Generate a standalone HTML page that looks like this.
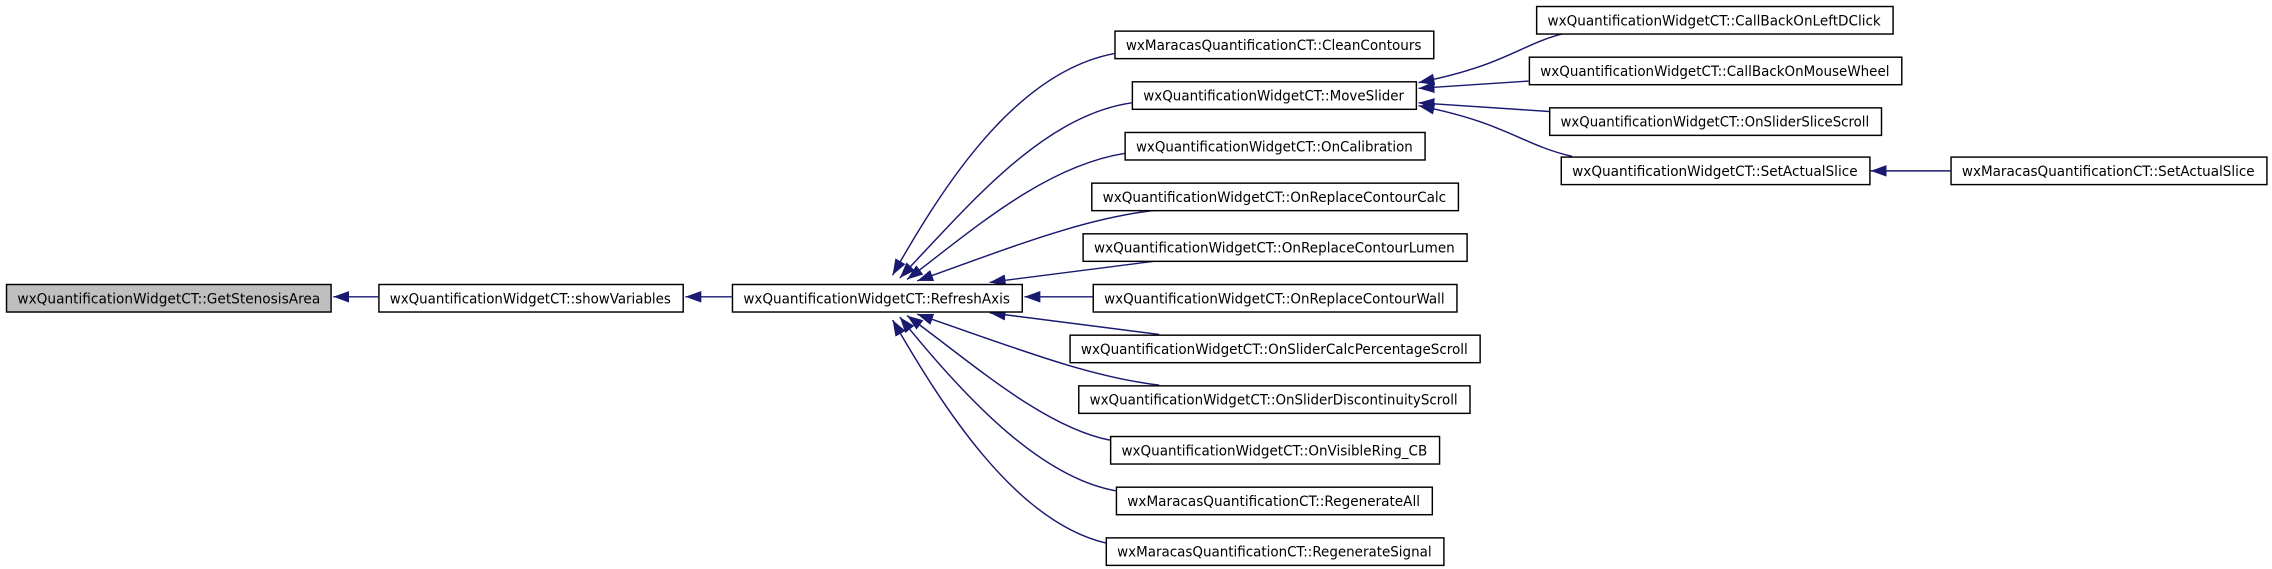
<!DOCTYPE html>
<html><head><meta charset="utf-8"><style>html,body{margin:0;padding:0;background:#fff}svg{display:block}</style></head><body>
<svg width="2272" height="569" viewBox="0 0 1568 393" xmlns="http://www.w3.org/2000/svg" preserveAspectRatio="none">
<defs><marker id="a" markerUnits="userSpaceOnUse" markerWidth="12" markerHeight="10" refX="11" refY="4" orient="auto"><path d="M0,0 L11,4 L0,8 z" fill="#191970"/></marker></defs>
<g fill="none" stroke="#191970" stroke-width="1" marker-end="url(#a)">
<path d="M261,205 L230,205"/>
<path d="M505,205 L473,205"/>
<path d="M769,37 C700,50 650,130 616,190"/>
<path d="M781,71 C720,80 670,140 621,192"/>
<path d="M776,106 C720,115 670,160 626,193"/>
<path d="M800,145 C750,150 700,170 633,194"/>
<path d="M800,180 L683,195"/>
<path d="M754,205 L707,205"/>
<path d="M800,231 L683,216"/>
<path d="M800,266 C750,260 700,240 633,217"/>
<path d="M766,304 C720,295 670,250 626,218"/>
<path d="M770,339 C720,330 670,280 621,219"/>
<path d="M763,375 C700,360 650,280 616,221"/>
<path d="M1080,23 C1050,30 1040,45 979,57"/>
<path d="M1055,56 L979,61"/>
<path d="M1069,77 L979,71"/>
<path d="M1085,108 C1050,100 1040,85 979,73"/>
<path d="M1346,118 L1291,118"/>
</g>
<g stroke="#000" stroke-width="1" font-family="'DejaVu Sans','Liberation Sans',sans-serif" font-size="10">
<rect x="4.5" y="196.5" width="224" height="19" fill="#bfbfbf"/>
<rect x="261.5" y="196.5" width="210" height="19" fill="#fff"/>
<rect x="505.5" y="196.5" width="200" height="19" fill="#fff"/>
<rect x="769.5" y="21.5" width="220" height="19" fill="#fff"/>
<rect x="781.5" y="56.5" width="196" height="19" fill="#fff"/>
<rect x="776.5" y="91.5" width="207" height="19" fill="#fff"/>
<rect x="753.5" y="126.5" width="253" height="19" fill="#fff"/>
<rect x="747.5" y="161.5" width="265" height="19" fill="#fff"/>
<rect x="754.5" y="196.5" width="251" height="19" fill="#fff"/>
<rect x="738.5" y="231.5" width="283" height="19" fill="#fff"/>
<rect x="744.5" y="266.5" width="270" height="19" fill="#fff"/>
<rect x="766.5" y="301.5" width="227" height="19" fill="#fff"/>
<rect x="770.5" y="336.5" width="218" height="19" fill="#fff"/>
<rect x="763.5" y="371.5" width="233" height="19" fill="#fff"/>
<rect x="1060.5" y="4.5" width="246" height="19" fill="#fff"/>
<rect x="1055.5" y="39.5" width="257" height="19" fill="#fff"/>
<rect x="1069.5" y="74.5" width="229" height="19" fill="#fff"/>
<rect x="1077.5" y="108.5" width="213" height="19" fill="#fff"/>
<rect x="1346.5" y="108.5" width="218" height="19" fill="#fff"/>
</g>
<g fill="#000" font-family="'DejaVu Sans','Liberation Sans',sans-serif" font-size="10" lengthAdjust="spacingAndGlyphs">
<text x="12" y="209.5" textLength="209" lengthAdjust="spacingAndGlyphs">wxQuantificationWidgetCT::GetStenosisArea</text>
<text x="269" y="209.5" textLength="194" lengthAdjust="spacingAndGlyphs">wxQuantificationWidgetCT::showVariables</text>
<text x="513" y="209.5" textLength="184" lengthAdjust="spacingAndGlyphs">wxQuantificationWidgetCT::RefreshAxis</text>
<text x="777" y="34.5" textLength="204" lengthAdjust="spacingAndGlyphs">wxMaracasQuantificationCT::CleanContours</text>
<text x="789" y="69.5" textLength="180" lengthAdjust="spacingAndGlyphs">wxQuantificationWidgetCT::MoveSlider</text>
<text x="784" y="104.5" textLength="191" lengthAdjust="spacingAndGlyphs">wxQuantificationWidgetCT::OnCalibration</text>
<text x="761" y="139.5" textLength="237" lengthAdjust="spacingAndGlyphs">wxQuantificationWidgetCT::OnReplaceContourCalc</text>
<text x="755" y="174.5" textLength="249" lengthAdjust="spacingAndGlyphs">wxQuantificationWidgetCT::OnReplaceContourLumen</text>
<text x="762" y="209.5" textLength="235" lengthAdjust="spacingAndGlyphs">wxQuantificationWidgetCT::OnReplaceContourWall</text>
<text x="746" y="244.5" textLength="267" lengthAdjust="spacingAndGlyphs">wxQuantificationWidgetCT::OnSliderCalcPercentageScroll</text>
<text x="752" y="279.5" textLength="254" lengthAdjust="spacingAndGlyphs">wxQuantificationWidgetCT::OnSliderDiscontinuityScroll</text>
<text x="774" y="314.5" textLength="211" lengthAdjust="spacingAndGlyphs">wxQuantificationWidgetCT::OnVisibleRing_CB</text>
<text x="778" y="349.5" textLength="202" lengthAdjust="spacingAndGlyphs">wxMaracasQuantificationCT::RegenerateAll</text>
<text x="771" y="384.5" textLength="217" lengthAdjust="spacingAndGlyphs">wxMaracasQuantificationCT::RegenerateSignal</text>
<text x="1068" y="17.5" textLength="230" lengthAdjust="spacingAndGlyphs">wxQuantificationWidgetCT::CallBackOnLeftDClick</text>
<text x="1063" y="52.5" textLength="241" lengthAdjust="spacingAndGlyphs">wxQuantificationWidgetCT::CallBackOnMouseWheel</text>
<text x="1077" y="87.5" textLength="213" lengthAdjust="spacingAndGlyphs">wxQuantificationWidgetCT::OnSliderSliceScroll</text>
<text x="1085" y="121.5" textLength="197" lengthAdjust="spacingAndGlyphs">wxQuantificationWidgetCT::SetActualSlice</text>
<text x="1354" y="121.5" textLength="202" lengthAdjust="spacingAndGlyphs">wxMaracasQuantificationCT::SetActualSlice</text>
</g>
</svg>
</body></html>
